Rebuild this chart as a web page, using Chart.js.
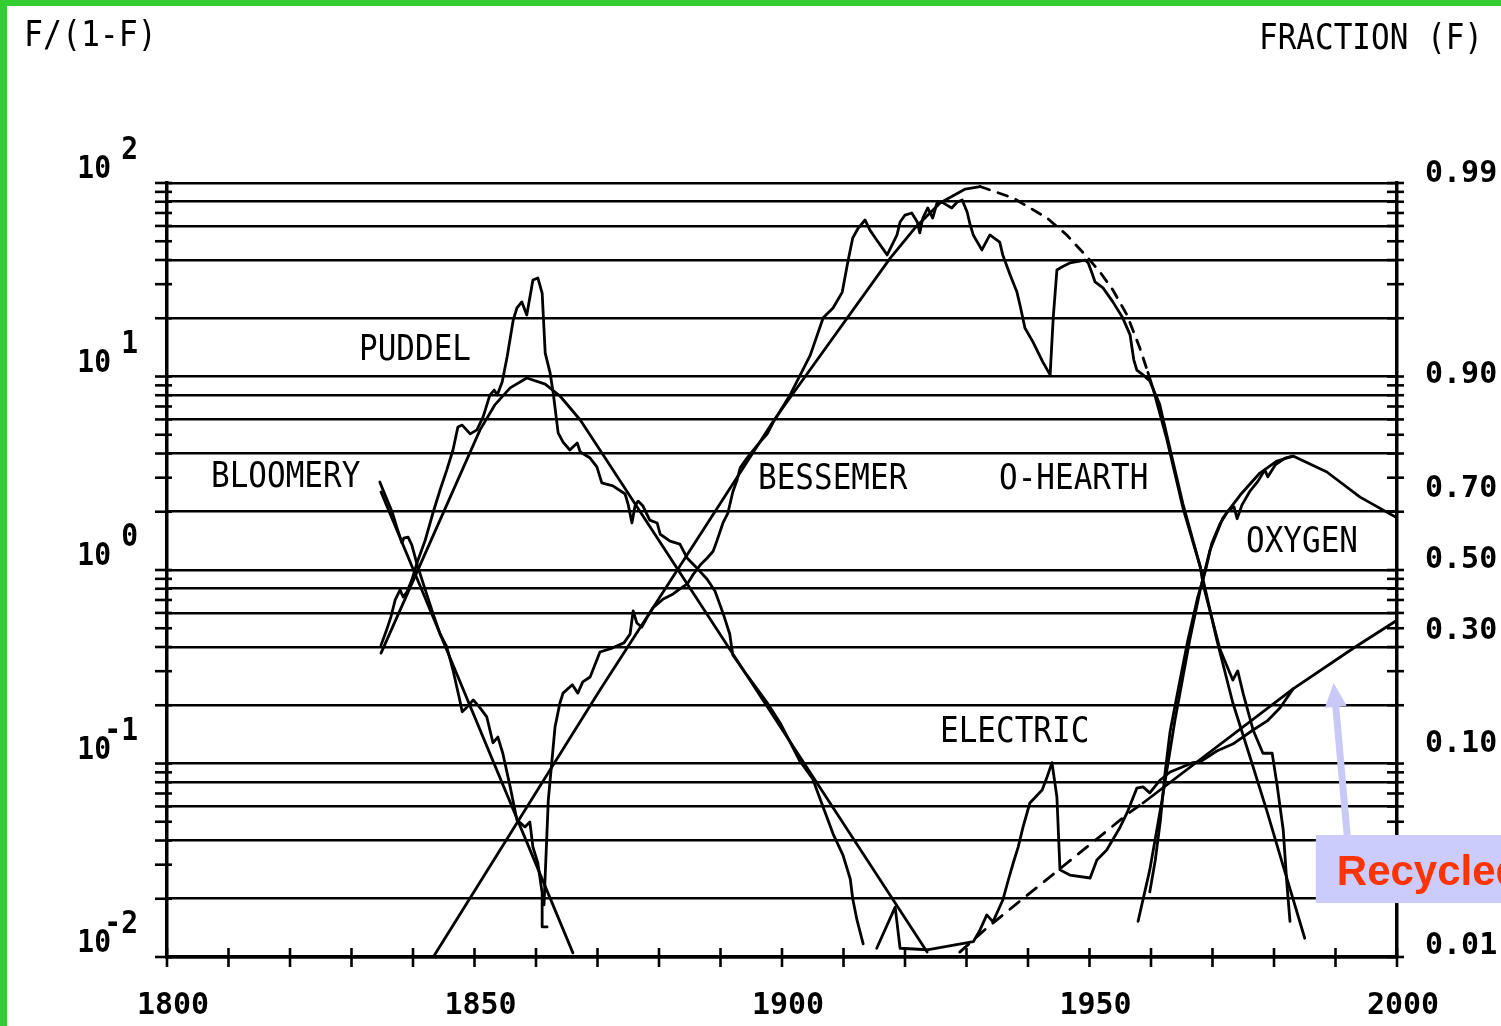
<!DOCTYPE html>
<html>
<head>
<meta charset="utf-8">
<title>Steel process substitution</title>
<script src="https://cdn.jsdelivr.net/npm/chart.js@4.4.1/dist/chart.umd.min.js"></script>
<style>
  html, body { margin: 0; padding: 0; background: #fff; }
  canvas { display: block; }
</style>
</head>
<body>
<canvas id="steel-chart" width="1501" height="1026"></canvas>
<script>
// axis labels
const yearLabels = [1800, 1850, 1900, 1950, 2000];
const fractionLabels = [0.99, 0.90, 0.70, 0.50, 0.30, 0.10, 0.01];
const decadeExponents = [2, 1, 0, -1, -2];
const gridMultiples = [1, 2, 4, 6, 8];

// series, [year, F/(1-F)]
const bloomeryFit = [[1834.8, 2.53], [1866.0, 0.0105]];
const bloomeryRaw = [[1834.6, 2.85], [1835.6, 2.38], [1836.6, 2.00], [1837.4, 1.65], [1838.2, 1.38], [1838.5, 1.46],
  [1839.2, 1.48], [1839.8, 1.35], [1840.7, 1.06], [1842.0, 0.79], [1843.3, 0.59], [1844.4, 0.467], [1845.5, 0.40],
  [1846.5, 0.304], [1847.6, 0.213], [1848.0, 0.185], [1848.8, 0.196], [1849.8, 0.213], [1850.9, 0.194], [1852.0, 0.174],
  [1853.0, 0.128], [1853.8, 0.137], [1854.6, 0.113], [1855.8, 0.0757], [1856.9, 0.0511], [1858.2, 0.047], [1859.0, 0.0499],
  [1859.5, 0.037], [1860.3, 0.0306], [1861.0, 0.0214], [1861.0, 0.0143], [1861.8, 0.0143]];

const puddelFit = [[1834.8, 0.372], [1850.9, 5.30], [1853.3, 7.13], [1855.8, 8.73], [1858.5, 9.82], [1861.5, 9.14],
  [1863.9, 7.93], [1867.2, 5.96], [1870.4, 4.17], [1923.6, 0.0106]];
const puddelRaw = [[1834.8, 0.409], [1835.6, 0.479], [1836.4, 0.571], [1837.1, 0.700], [1837.9, 0.789], [1838.4, 0.725],
  [1839.0, 0.769], [1839.8, 0.887], [1840.7, 1.10], [1842.0, 1.43], [1843.3, 2.00], [1844.4, 2.59], [1845.5, 3.29],
  [1846.5, 4.17], [1847.3, 5.48], [1848.0, 5.61], [1849.3, 5.05], [1850.4, 5.30], [1851.4, 6.18], [1852.5, 8.02],
  [1853.2, 8.51], [1853.7, 8.02], [1854.5, 9.37], [1855.3, 12.6], [1856.3, 19.6], [1856.9, 22.6], [1857.7, 24.3],
  [1858.5, 20.8], [1859.5, 31.5], [1860.3, 32.3], [1861.0, 27.0], [1861.5, 13.2], [1862.3, 10.4], [1862.8, 8.22],
  [1863.6, 5.11], [1864.4, 4.58], [1865.5, 4.17], [1866.7, 4.53], [1867.2, 4.07], [1868.8, 3.79], [1869.9, 3.41],
  [1870.7, 2.82], [1872.5, 2.72], [1874.5, 2.47], [1875.0, 2.17], [1875.6, 1.75], [1876.1, 2.14], [1876.6, 2.27],
  [1877.4, 2.14], [1878.5, 1.81], [1879.7, 1.75], [1880.2, 1.53], [1881.8, 1.41], [1883.4, 1.36], [1884.6, 1.15],
  [1886.2, 1.02], [1887.8, 0.898], [1889.1, 0.778], [1890.4, 0.600], [1891.5, 0.467], [1892.0, 0.364], [1894.3, 0.286],
  [1897.6, 0.206], [1899.7, 0.162], [1902.9, 0.103], [1905.0, 0.0832], [1906.2, 0.0656], [1908.3, 0.0433],
  [1909.9, 0.0337], [1911.1, 0.0253], [1911.5, 0.0200], [1912.2, 0.0155], [1913.2, 0.0117]];

const hearthFit = [[1843.3, 0.0100], [1870.4, 0.240], [1898.5, 5.82], [1900.8, 7.38], [1917.6, 40.9], [1921.6, 58.5],
  [1925.7, 78.8], [1929.8, 93.1], [1932.2, 95.9]];
const hearthFitDashed = [[1932.2, 95.9], [1937.6, 83.6], [1943.1, 65.9], [1946.3, 53.9], [1949.6, 41.5], [1951.7, 34.7],
  [1953.8, 28.0], [1956.1, 20.8], [1958.2, 14.0], [1959.5, 10.5]];
const hearthFitLate = [[1959.5, 10.5], [1960.3, 8.73], [1962.6, 4.70], [1965.2, 2.09], [1968.0, 1.04], [1970.7, 0.435],
  [1973.3, 0.206], [1976.1, 0.108], [1978.9, 0.0561], [1981.5, 0.0295], [1985.0, 0.0125]];
const hearthRaw = [[1861.3, 0.0186], [1861.6, 0.0317], [1862.0, 0.0647], [1862.6, 0.104], [1863.1, 0.155], [1863.9, 0.206],
  [1864.4, 0.231], [1865.9, 0.255], [1866.8, 0.231], [1867.6, 0.264], [1868.8, 0.280], [1870.4, 0.377], [1872.4, 0.395],
  [1874.3, 0.420], [1875.3, 0.467], [1875.8, 0.614], [1876.4, 0.532], [1877.2, 0.507], [1878.0, 0.565], [1879.0, 0.637],
  [1880.7, 0.708], [1882.3, 0.752], [1883.4, 0.798], [1884.6, 0.847], [1885.5, 0.942], [1886.7, 1.06], [1887.8, 1.15],
  [1888.8, 1.25], [1889.4, 1.41], [1890.4, 1.75], [1891.2, 1.97], [1892.0, 2.53], [1892.7, 2.92], [1893.2, 3.37],
  [1894.3, 3.79], [1895.9, 4.38], [1897.6, 5.05], [1898.5, 5.75], [1901.3, 8.02], [1904.6, 12.9], [1906.7, 20.1],
  [1908.3, 22.6], [1909.8, 27.3], [1910.7, 39.1], [1911.5, 52.0], [1912.4, 58.5], [1913.5, 64.4], [1914.3, 57.1],
  [1915.4, 50.7], [1917.1, 42.5], [1918.7, 53.9], [1919.2, 62.9], [1920.0, 68.3], [1921.1, 70.0], [1922.0, 62.9],
  [1922.4, 55.2], [1922.9, 65.9], [1923.7, 74.3], [1924.5, 65.9], [1925.2, 78.8], [1926.0, 79.7], [1926.8, 76.9],
  [1927.6, 74.3], [1928.5, 79.7], [1929.3, 81.7], [1930.1, 70.8], [1930.6, 60.7], [1931.1, 53.9], [1932.5, 45.1],
  [1933.8, 53.9], [1935.4, 49.5], [1935.9, 42.5], [1937.1, 33.5], [1938.2, 27.3], [1938.7, 23.4], [1939.5, 17.8],
  [1940.8, 15.1], [1942.4, 11.9], [1943.6, 10.2], [1944.1, 20.1], [1944.7, 35.5], [1945.5, 36.8], [1946.8, 38.6],
  [1949.3, 40.0], [1949.8, 38.6], [1950.4, 34.3], [1950.9, 30.8], [1952.2, 28.7], [1953.8, 24.3], [1955.4, 20.1],
  [1956.6, 16.4], [1957.2, 12.2], [1957.7, 10.8], [1958.7, 10.2], [1959.8, 9.48], [1961.4, 7.21], [1963.1, 4.22],
  [1965.2, 2.19], [1968.0, 1.04], [1968.5, 0.836], [1971.2, 0.391], [1973.3, 0.270], [1974.1, 0.301], [1975.0, 0.229],
  [1976.6, 0.149], [1978.2, 0.113], [1979.7, 0.113], [1980.5, 0.0774], [1981.5, 0.0453], [1982.1, 0.0238], [1982.6, 0.0153]];

const electricFitDashed = [[1928.9, 0.0106], [1933.5, 0.0143], [1956.6, 0.0561], [1958.7, 0.0625]];
const electricFit = [[1958.7, 0.0625], [1983.1, 0.243], [1993.2, 0.400], [2000.0, 0.55]];
const electricRaw = [[1915.4, 0.0111], [1918.4, 0.0181], [1919.2, 0.0111], [1923.6, 0.0109], [1931.1, 0.0120],
  [1932.2, 0.0138], [1933.3, 0.0165], [1934.3, 0.0152], [1935.9, 0.0197], [1936.8, 0.0250], [1937.6, 0.0306],
  [1938.4, 0.0370], [1939.2, 0.0470], [1940.3, 0.0625], [1942.3, 0.0729], [1943.1, 0.0851], [1943.9, 0.101],
  [1944.7, 0.0671], [1945.2, 0.0282], [1946.8, 0.0265], [1950.1, 0.0256], [1951.2, 0.0317], [1952.8, 0.0357],
  [1955.0, 0.0470], [1956.1, 0.0555], [1957.7, 0.0746], [1958.7, 0.0757], [1959.8, 0.0705], [1961.5, 0.0822],
  [1963.1, 0.0904], [1964.7, 0.0948], [1966.8, 0.101], [1968.0, 0.102], [1970.7, 0.116], [1973.3, 0.126],
  [1976.6, 0.149], [1978.9, 0.166], [1981.0, 0.194], [1983.1, 0.243]];

const oxygenFit = [[1957.9, 0.0153], [1959.8, 0.0282], [1961.8, 0.0647], [1963.9, 0.168], [1966.3, 0.435], [1968.0, 0.789],
  [1969.6, 1.27], [1971.7, 1.86], [1974.5, 2.44], [1977.7, 3.17], [1980.5, 3.66], [1983.1, 3.88], [1988.6, 3.21],
  [1994.0, 2.38], [2000.0, 1.86]];
const oxygenRaw = [[1959.8, 0.0217], [1960.7, 0.0317], [1961.5, 0.0499], [1962.3, 0.0904], [1963.1, 0.146], [1964.4, 0.240],
  [1966.0, 0.435], [1967.6, 0.725], [1968.8, 0.977], [1969.9, 1.38], [1971.2, 1.73], [1972.5, 2.02], [1973.5, 2.12],
  [1974.0, 1.84], [1974.8, 2.17], [1976.1, 2.56], [1977.4, 2.88], [1978.5, 3.29], [1979.0, 3.03], [1980.2, 3.49],
  [1981.8, 3.79], [1983.1, 3.88]];

// recycled note, in data units
const recycledArrow = { from: [1991.9, 0.0427], to: [1989.7, 0.261] };
const recycledBox = { left: 1986.8, top: 0.0427, bottom: 0.019 };

const FONT = '"DejaVu Sans Mono", "Liberation Mono", monospace';

// every integer multiple inside each decade gets a tick, some get a grid line
const logTicks = [];
decadeExponents.slice().reverse().forEach(k => {
  if (k === 2) { logTicks.push(100); return; }
  for (let m = 1; m <= 9; m++) logTicks.push(+(m * Math.pow(10, k)).toPrecision(3));
});
const isGridValue = v => {
  if (!v) return false;
  const m = Math.round(v / Math.pow(10, Math.floor(Math.log10(v) + 1e-9)));
  return gridMultiples.includes(m);
};
const yearTicks = [];
for (let yr = 1800; yr <= 2000; yr += 10) yearTicks.push(yr);

const series = (points, dash) => ({
  data: points.map(p => ({ x: p[0], y: p[1] })),
  borderColor: '#000',
  borderWidth: 2.8,
  borderDash: dash || [],
  borderJoinStyle: 'round',
  borderCapStyle: 'round',
  pointRadius: 0,
  tension: 0,
  fill: false
});

const line = (ctx, x1, y1, x2, y2) => {
  ctx.beginPath();
  ctx.moveTo(x1, y1);
  ctx.lineTo(x2, y2);
  ctx.stroke();
};

const label = (ctx, text, x, y, size, stretch, weight, align) => {
  ctx.save();
  ctx.font = (weight || 'normal') + ' ' + size + 'px ' + FONT;
  ctx.textAlign = align || 'left';
  ctx.textBaseline = 'middle';
  ctx.translate(x, y);
  ctx.scale(1, stretch);
  ctx.fillText(text, 0, 0);
  ctx.restore();
};

const plotterMarks = {
  id: 'plotterMarks',
  afterDraw(chart) {
    const { ctx, chartArea: area, scales } = chart;
    const xs = scales.x, ys = scales.y;
    ctx.save();
    ctx.strokeStyle = '#000';
    ctx.fillStyle = '#000';
    ctx.lineWidth = 2.6;

    // tick marks crossing the axes
    logTicks.forEach(v => {
      const y = ys.getPixelForValue(v);
      line(ctx, area.left - 12, y, area.left + 5, y);
      line(ctx, area.right - 10, y, area.right + 7, y);
    });
    yearTicks.forEach(yr => {
      const x = xs.getPixelForValue(yr);
      line(ctx, x, area.bottom - 9, x, area.bottom + 10);
    });

    // 10^k labels on the left
    decadeExponents.forEach(k => {
      const y = ys.getPixelForValue(Math.pow(10, k));
      label(ctx, '10', 111, y - 13, 28, 1.15, 'bold', 'right');
      label(ctx, k < 0 ? '-' + Math.abs(k) : String(k), 138, y - 32, 28, 1.15, 'bold', 'right');
    });

    // titles and curve names
    label(ctx, 'F/(1-F)', 24, 37, 31.5, 1.12);
    label(ctx, 'FRACTION (F)', 1259, 40, 31, 1.12);
    label(ctx, 'PUDDEL', 359, 351, 31, 1.12);
    label(ctx, 'BLOOMERY', 211, 478, 31, 1.12);
    label(ctx, 'BESSEMER', 758, 480, 31, 1.12);
    label(ctx, 'O-HEARTH', 999, 480, 31, 1.12);
    label(ctx, 'OXYGEN', 1246, 543, 31, 1.12);
    label(ctx, 'ELECTRIC', 940, 733, 31, 1.12);

    // recycled note
    const bx = xs.getPixelForValue(recycledBox.left);
    const bt = ys.getPixelForValue(recycledBox.top);
    const bb = ys.getPixelForValue(recycledBox.bottom);
    ctx.fillStyle = '#ccccfc';
    ctx.fillRect(bx, bt, chart.width - bx, bb - bt);
    const ax1 = xs.getPixelForValue(recycledArrow.from[0]);
    const ay1 = ys.getPixelForValue(recycledArrow.from[1]);
    const ax2 = xs.getPixelForValue(recycledArrow.to[0]);
    const ay2 = ys.getPixelForValue(recycledArrow.to[1]);
    const ang = Math.atan2(ay2 - ay1, ax2 - ax1);
    ctx.strokeStyle = '#c9c9f8';
    ctx.lineWidth = 7;
    line(ctx, ax1, ay1, ax2 - 18 * Math.cos(ang), ay2 - 18 * Math.sin(ang));
    ctx.fillStyle = '#c9c9f8';
    ctx.beginPath();
    ctx.moveTo(ax2, ay2);
    ctx.lineTo(ax2 - 24 * Math.cos(ang) + 11 * Math.sin(ang), ay2 - 24 * Math.sin(ang) - 11 * Math.cos(ang));
    ctx.lineTo(ax2 - 24 * Math.cos(ang) - 11 * Math.sin(ang), ay2 - 24 * Math.sin(ang) + 11 * Math.cos(ang));
    ctx.closePath();
    ctx.fill();
    ctx.fillStyle = '#ff3300';
    ctx.font = 'bold 42px "Liberation Sans", Arial, sans-serif';
    ctx.textAlign = 'left';
    ctx.textBaseline = 'alphabetic';
    ctx.fillText('Recycled', bx + 21, bb - 18);

    // green frame of the slide
    ctx.fillStyle = '#33cc33';
    ctx.fillRect(0, 0, 7, chart.height);
    ctx.fillRect(0, 0, chart.width, 6);
    ctx.restore();
  }
};

const tickFont = { family: FONT, size: 30, weight: 'bold' };

new Chart(document.querySelector('#steel-chart'), {
  type: 'line',
  data: {
    datasets: [
      series(bloomeryFit), series(bloomeryRaw),
      series(puddelFit), series(puddelRaw),
      series(hearthFit), series(hearthFitDashed, [10, 9]), series(hearthFitLate), series(hearthRaw),
      series(electricFitDashed, [12, 10]), series(electricFit), series(electricRaw),
      series(oxygenFit), series(oxygenRaw)
    ]
  },
  options: {
    responsive: false,
    animation: false,
    events: [],
    layout: { padding: { top: 183, left: 0, right: 0, bottom: 0 } },
    plugins: { legend: { display: false }, tooltip: { enabled: false } },
    scales: {
      x: {
        type: 'linear', min: 1800, max: 2000, position: 'bottom',
        afterBuildTicks: s => { s.ticks = yearTicks.map(v => ({ value: v })); },
        ticks: {
          autoSkip: false, maxRotation: 0, color: '#000', font: tickFont, padding: 31, labelOffset: 6,
          callback: v => yearLabels.includes(v) ? String(v) : ''
        },
        grid: { drawOnChartArea: false, drawTicks: false },
        border: { display: true, color: '#000', width: 3.5 },
        afterFit: s => { s.height = 1026 - 957; }
      },
      y: {
        type: 'logarithmic', min: 0.01, max: 100, position: 'left',
        afterBuildTicks: s => { s.ticks = logTicks.map(v => ({ value: v })); },
        ticks: { display: false },
        grid: {
          drawTicks: false, lineWidth: 2.6,
          color: c => isGridValue(c.tick && c.tick.value) ? '#000' : 'rgba(0,0,0,0)'
        },
        border: { display: true, color: '#000', width: 3.5 },
        afterFit: s => { s.width = 167; }
      },
      yRight: {
        type: 'logarithmic', min: 0.01, max: 100, position: 'right',
        afterBuildTicks: s => { s.ticks = fractionLabels.map(f => ({ value: f / (1 - f) })); },
        ticks: {
          autoSkip: false, color: '#000', font: tickFont, padding: 28, labelOffset: -10,
          callback: v => (v / (1 + v)).toFixed(2)
        },
        grid: { drawOnChartArea: false, drawTicks: false },
        border: { display: true, color: '#000', width: 3.5 },
        afterFit: s => { s.width = 1501 - 1397; }
      }
    }
  },
  plugins: [plotterMarks]
});
</script>
</body>
</html>
